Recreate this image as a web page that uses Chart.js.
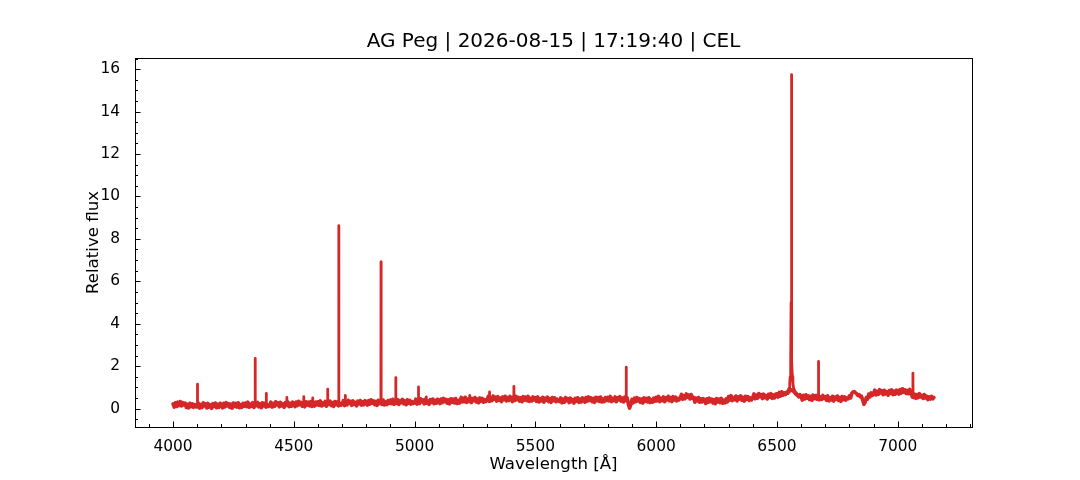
<!DOCTYPE html>
<html>
<head>
<meta charset="utf-8">
<script src="https://cdn.jsdelivr.net/npm/chart.js@4.4.0/dist/chart.umd.min.js"></script>
<style>
  html, body { margin: 0; padding: 0; background: #fff; }
</style>
</head>
<body>
<canvas id="spectrum" width="1080" height="480"></canvas>
<script>
// continuum samples, one every 5 A starting at 4000 A (one row per 100 A)
var startWl = 4000;
var stepWl = 5;
var flux = [
  .22,.07,.27,.10,.30,.14,.33,.12,.28,.17,.26,.05,.20,.03,.25,.09,.22,.06,.18,.08, // 4000
  .08,.25,.02,.19,.05,.27,.12,.22,.03,.24,.07,.17,.01,.23,.10,.26,.04,.20,.06,.25, // 4100
  .19,.03,.25,.08,.28,.12,.23,.05,.21,.02,.26,.10,.24,.07,.27,.04,.18,.06,.25,.11, // 4200
  .26,.09,.30,.06,.21,.11,.28,.05,.24,.14,.29,.08,.22,.04,.27,.12,.25,.07,.19,.10, // 4300
  .13,.30,.07,.24,.10,.32,.17,.27,.08,.29,.12,.22,.06,.28,.15,.31,.09,.25,.11,.30, // 4400
  .25,.09,.31,.14,.34,.18,.29,.11,.27,.08,.32,.16,.30,.13,.33,.10,.24,.12,.31,.17, // 4500
  .32,.15,.36,.12,.27,.17,.34,.11,.30,.20,.35,.14,.28,.10,.33,.18,.31,.13,.25,.16, // 4600
  .20,.37,.14,.31,.17,.39,.24,.34,.15,.36,.19,.29,.13,.35,.22,.38,.16,.32,.18,.37, // 4700
  .32,.16,.38,.21,.41,.25,.36,.18,.34,.15,.39,.23,.37,.20,.40,.17,.31,.19,.38,.24, // 4800
  .40,.23,.44,.20,.35,.25,.42,.19,.38,.28,.43,.22,.36,.18,.41,.26,.39,.21,.33,.24, // 4900
  .27,.44,.21,.38,.24,.46,.31,.41,.22,.43,.26,.36,.20,.42,.29,.45,.23,.39,.25,.44, // 5000
  .39,.23,.45,.28,.48,.32,.43,.25,.41,.22,.46,.30,.44,.27,.47,.24,.38,.26,.45,.31, // 5100
  .49,.32,.53,.29,.44,.34,.51,.28,.47,.37,.52,.31,.45,.27,.50,.35,.48,.30,.42,.33, // 5200
  .40,.57,.34,.51,.37,.59,.44,.54,.35,.56,.39,.49,.33,.55,.42,.58,.36,.52,.38,.57, // 5300
  .49,.33,.55,.38,.58,.42,.53,.35,.51,.32,.56,.40,.54,.37,.57,.34,.48,.36,.55,.41, // 5400
  .51,.34,.55,.31,.46,.36,.53,.30,.49,.39,.54,.33,.47,.29,.52,.37,.50,.32,.44,.35, // 5500
  .33,.50,.27,.44,.30,.52,.37,.47,.28,.49,.32,.42,.26,.48,.35,.51,.29,.45,.31,.50, // 5600
  .46,.30,.52,.35,.55,.39,.50,.32,.48,.29,.53,.37,.51,.34,.54,.31,.45,.33,.52,.38, // 5700
  .53,.36,.57,.33,.48,.38,.55,.32,.51,.41,.56,.35,.49,.31,.54,.39,.50,.20,.02,.18, // 5800
  .43,.27,.49,.32,.52,.36,.47,.29,.45,.26,.50,.34,.48,.31,.51,.28,.42,.30,.49,.35, // 5900
  .53,.36,.57,.33,.48,.38,.55,.32,.51,.41,.58,.37,.51,.33,.56,.41,.54,.36,.48,.41, // 6000
  .50,.67,.44,.61,.47,.69,.54,.64,.45,.66,.49,.53,.30,.49,.36,.52,.30,.46,.32,.47, // 6100
  .40,.24,.46,.29,.49,.33,.44,.26,.42,.23,.47,.31,.45,.28,.48,.25,.39,.27,.46,.32, // 6200
  .57,.40,.61,.37,.52,.42,.59,.36,.55,.45,.60,.39,.53,.35,.58,.43,.56,.38,.50,.41, // 6300
  .52,.69,.46,.63,.49,.71,.56,.66,.47,.68,.51,.61,.45,.67,.54,.70,.48,.64,.50,.69, // 6400
  .70,.54,.76,.59,.79,.63,.74,.66,.76,.72,.80,.85,.88,.85,.80,.72,.66,.62,.55,.66, // 6500
  .56,.40,.62,.45,.65,.49,.60,.42,.58,.39,.63,.47,.61,.44,.64,.41,.55,.43,.62,.48, // 6600
  .56,.39,.60,.36,.51,.41,.58,.35,.54,.44,.59,.38,.52,.34,.57,.42,.55,.40,.50,.46, // 6700
  .60,.50,.72,.78,.80,.74,.70,.62,.66,.55,.58,.40,.20,.30,.52,.45,.68,.55,.74,.62, // 6800
  .70,.87,.64,.81,.67,.89,.74,.84,.65,.86,.69,.79,.63,.85,.72,.88,.66,.82,.68,.87, // 6900
  .84,.68,.90,.73,.93,.77,.88,.71,.86,.70,.90,.78,.55,.52,.68,.48,.66,.52,.70,.55, // 7000
  .62,.48,.66,.50,.58,.42,.55,.45,.57,.46,.52                                      // 7100
];

// narrow emission lines: centre wavelength and peak flux
var lineWl   = [4101, 4340, 4386, 4471, 4541, 4578, 4640, 4686, 4713, 4861, 4922, 5016, 5048, 5192, 5228, 5310, 5411, 5876, 6672, 7063];
var linePeak = [1.15, 2.37, 0.72, 0.52, 0.56, 0.50, 0.92, 8.62, 0.62, 6.92, 1.46, 1.02, 0.55, 0.55, 0.62, 0.78, 1.05, 1.95, 2.22, 1.67];

// H-alpha profile with its wings
var haWl   = [6533, 6545, 6550, 6553, 6555, 6557, 6558.5, 6559.5, 6560.5, 6562, 6564, 6566, 6569, 6575, 6585];
var haFlux = [0.72, 0.82, 0.95, 1.20, 1.50, 2.20, 5.00, 15.74, 5.00, 2.20, 1.50, 1.20, 0.95, 0.80, 0.68];

var xTicks = [4000, 4500, 5000, 5500, 6000, 6500, 7000];
var yTicks = [0, 2, 4, 6, 8, 10, 12, 14, 16];
var xMinorStep = 100;
var yMinorStep = 0.5;

var red = '#d62728';
var font = 'DejaVu Sans';

var contData = [];
for (var i = 0; i < flux.length; i++) {
  contData.push({x: startWl + i * stepWl, y: flux[i]});
}

var lineData = [];
for (var j = 0; j < lineWl.length; j++) {
  var base = flux[Math.round((lineWl[j] - startWl) / stepWl)];
  lineData.push({x: lineWl[j] - 0.5, y: base});
  lineData.push({x: lineWl[j], y: linePeak[j]});
  lineData.push({x: lineWl[j] + 0.5, y: base});
  lineData.push({x: lineWl[j] + 0.6, y: null});
}
for (var k = 0; k < haWl.length; k++) {
  lineData.push({x: haWl[k], y: haFlux[k]});
}

// inward ticks and the axes frame, drawn like matplotlib
var frameTicks = {
  id: 'frameTicks',
  afterDraw: function(chart) {
    var ctx = chart.ctx, a = chart.chartArea;
    var xs = chart.scales.x, ys = chart.scales.y;
    ctx.save();
    ctx.strokeStyle = '#000';
    ctx.lineWidth = 1;
    ctx.beginPath();
    for (var v = Math.ceil(xs.min / xMinorStep) * xMinorStep; v <= xs.max; v += xMinorStep) {
      var px = Math.round(xs.getPixelForValue(v)) + 0.5;
      var len = xTicks.indexOf(v) >= 0 ? 5.5 : 3;
      ctx.moveTo(px, a.bottom);
      ctx.lineTo(px, a.bottom - len);
    }
    for (var w = Math.ceil(ys.min / yMinorStep) * yMinorStep; w <= ys.max; w += yMinorStep) {
      var py = Math.round(ys.getPixelForValue(w)) + 0.5;
      var len2 = yTicks.indexOf(w) >= 0 ? 5.5 : 3;
      ctx.moveTo(a.left, py);
      ctx.lineTo(a.left + len2, py);
    }
    ctx.stroke();
    ctx.strokeRect(Math.round(a.left) + 0.5, Math.round(a.top) + 0.5,
                   Math.round(a.right - a.left), Math.round(a.bottom - a.top));
    ctx.restore();
  }
};

var ctx = document.getElementById('spectrum').getContext('2d');
var chart = new Chart(ctx, {
  type: 'line',
  data: {
    datasets: [
      {
        data: contData,
        borderColor: red,
        borderWidth: 3.6,
        borderJoinStyle: 'round',
        borderCapStyle: 'round',
        pointRadius: 0,
        tension: 0
      },
      {
        data: lineData,
        borderColor: red,
        borderWidth: 2.8,
        borderJoinStyle: 'round',
        borderCapStyle: 'round',
        pointRadius: 0,
        spanGaps: false,
        tension: 0
      }
    ]
  },
  options: {
    responsive: false,
    animation: false,
    devicePixelRatio: 1,
    layout: { padding: { left: 27, right: 0, top: 0, bottom: 0 } },
    plugins: {
      legend: { display: false },
      tooltip: { enabled: false },
      title: {
        display: true,
        text: 'AG Peg | 2026-08-15 | 17:19:40 | CEL',
        color: '#000',
        font: { family: font, size: 20, weight: 'normal', lineHeight: 1.2 },
        padding: { top: 29.3, bottom: 4.7 }
      }
    },
    scales: {
      x: {
        type: 'linear',
        min: 3842.5,
        max: 7307.5,
        grid: { display: false },
        border: { display: false },
        afterBuildTicks: function(s) { s.ticks = xTicks.map(function(v) { return {value: v}; }); },
        afterFit: function(s) { s.height = 53; },
        ticks: {
          color: '#000',
          padding: 3,
          maxRotation: 0,
          font: { family: font, size: 15.4 },
          callback: function(v) { return String(v); }
        },
        title: {
          display: true,
          text: 'Wavelength [Å]',
          color: '#000',
          font: { family: font, size: 16.6, lineHeight: 1.2 },
          padding: { top: 0, bottom: 5 }
        }
      },
      y: {
        type: 'linear',
        min: -0.87,
        max: 16.53,
        grid: { display: false },
        border: { display: false },
        afterBuildTicks: function(s) { s.ticks = yTicks.map(function(v) { return {value: v}; }); },
        afterFit: function(s) { s.width = 108; },
        ticks: {
          color: '#000',
          padding: 7,
          font: { family: font, size: 15.4 },
          callback: function(v) { return String(v); }
        },
        title: {
          display: true,
          text: 'Relative flux',
          color: '#000',
          font: { family: font, size: 16.6, lineHeight: 1.2 },
          padding: { top: 56.5, bottom: 0 }
        }
      },
      // empty right-hand box so the plot sits where matplotlib put it
      yRight: {
        type: 'linear',
        position: 'right',
        min: 0,
        max: 1,
        grid: { display: false },
        border: { display: false },
        ticks: { display: false },
        afterFit: function(s) { s.width = 108; }
      }
    }
  },
  plugins: [frameTicks]
});
</script>
</body>
</html>
